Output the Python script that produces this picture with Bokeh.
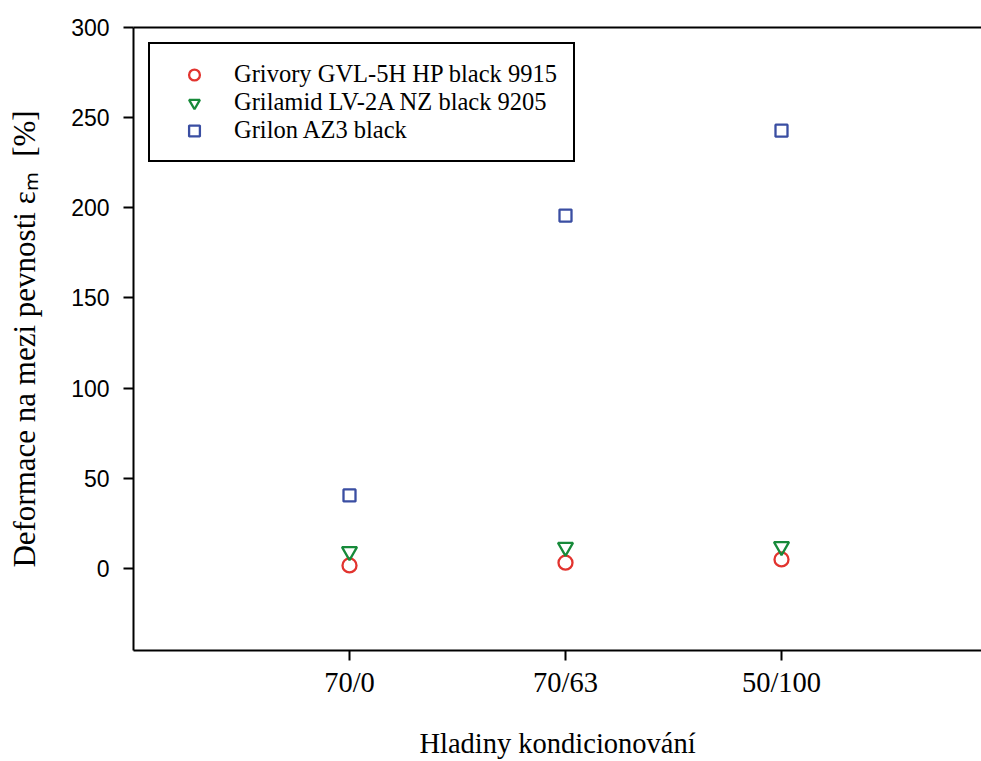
from bokeh.plotting import figure
from bokeh.models import Range1d, FixedTicker, LinearAxis, Legend, LegendItem
from bokeh.embed import file_html
from bokeh.resources import INLINE

# ---- data ----
categories = ["70/0", "70/63", "50/100"]
grivory = [1.7, 3.2, 5.0]
grilamid = [9.4, 11.8, 12.2]
grilon = [40.5, 195.7, 242.8]
series_names = ["Grivory GVL-5H HP black 9915",
                "Grilamid LV-2A NZ black 9205",
                "Grilon AZ3 black"]
y_ticks = [0, 50, 100, 150, 200, 250, 300]

x_pos = list(range(1, len(categories) + 1))

SERIF = "Liberation Serif"
SANS = "Liberation Sans"

p = figure(width=981, height=761, output_backend="svg", toolbar_location=None,
           x_range=Range1d(0, 848 / 216), y_range=Range1d(-45.5, 300),
           min_border_left=133, min_border_right=0, min_border_top=27,
           min_border_bottom=111)
p.outline_line_color = None
p.grid.visible = False
p.background_fill_color = "white"
p.border_fill_color = "white"

# x axis
xa = p.xaxis[0]
xa.ticker = FixedTicker(ticks=x_pos)
xa.major_label_overrides = {x: c for x, c in zip(x_pos, categories)}
xa.axis_label = "Hladiny kondicionování"
xa.axis_label_text_font = SERIF
xa.axis_label_text_font_style = "normal"
xa.axis_label_text_font_size = "28.5px"
xa.axis_label_text_color = "black"
xa.axis_label_standoff = 27
xa.major_label_text_font = SERIF
xa.major_label_text_font_size = "28.5px"
xa.major_label_text_color = "black"
xa.major_label_standoff = 6
xa.major_tick_out = 10
xa.major_tick_in = 0
xa.minor_tick_out = 0
xa.minor_tick_in = 0
xa.axis_line_width = 2
xa.major_tick_line_width = 2
xa.axis_line_color = "black"
xa.major_tick_line_color = "black"

# y axis
ya = p.yaxis[0]
ya.ticker = FixedTicker(ticks=y_ticks)
ya.axis_label = "Deformace na mezi pevnosti εₘ\u00a0\u00a0[%]"
ya.axis_label_text_font = SERIF
ya.axis_label_text_font_style = "normal"
ya.axis_label_text_font_size = "31px"
ya.axis_label_text_color = "black"
ya.axis_label_standoff = 26
ya.major_label_text_font = SANS
ya.major_label_text_font_size = "23px"
ya.major_label_text_color = "black"
ya.major_label_standoff = 14
ya.major_tick_out = 10
ya.major_tick_in = 0
ya.minor_tick_out = 0
ya.minor_tick_in = 0
ya.axis_line_width = 2
ya.major_tick_line_width = 2
ya.axis_line_color = "black"
ya.major_tick_line_color = "black"

# top border line
top = LinearAxis(ticker=FixedTicker(ticks=[]), major_label_text_font_size="0px",
                 major_tick_out=0, major_tick_in=0, minor_tick_out=0, minor_tick_in=0,
                 axis_line_width=2, axis_line_color="black")
p.add_layout(top, "above")

RED = "#e2342f"
GREEN = "#178a3a"
BLUE = "#3a4ea2"

r1 = p.scatter(x_pos, grivory, marker="circle", size=14, fill_color=None,
               line_color=RED, line_width=2.3)
r2 = p.scatter(x_pos, grilamid, marker="inverted_triangle", size=15, fill_color=None,
               line_color=GREEN, line_width=2.3)
r3 = p.scatter(x_pos, grilon, marker="square", size=12, fill_color=None,
               line_color=BLUE, line_width=2.3)

legend = Legend(items=[LegendItem(label=series_names[0], renderers=[r1]),
                       LegendItem(label=series_names[1], renderers=[r2]),
                       LegendItem(label=series_names[2], renderers=[r3])],
                location="top_left", margin=15, padding=16,
                glyph_width=56, glyph_height=27, label_height=22, spacing=0,
                label_standoff=12,
                label_text_font=SERIF, label_text_font_size="24.5px",
                label_text_color="black",
                border_line_color="black", border_line_width=2, border_line_alpha=1,
                background_fill_color="white", background_fill_alpha=1)
p.add_layout(legend)

open("out.html", "w").write(file_html(p, INLINE))
